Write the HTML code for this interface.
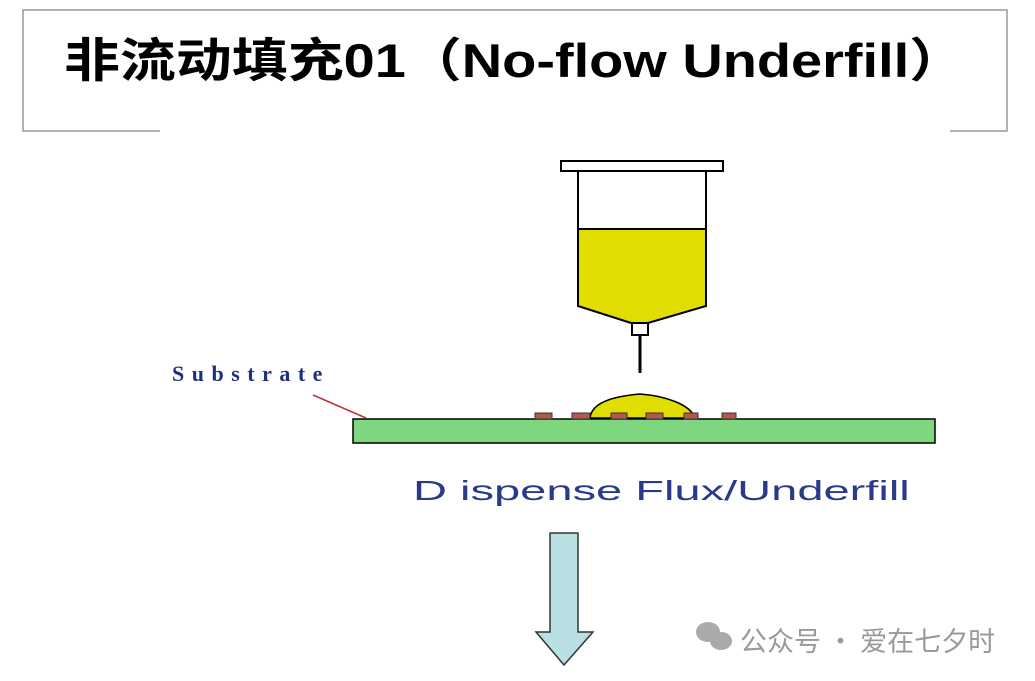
<!DOCTYPE html>
<html><head><meta charset="utf-8"><style>
body{margin:0;width:1035px;height:681px;background:#fff;overflow:hidden;position:relative}
.t{position:absolute;white-space:nowrap;transform-origin:0 0}
</style></head><body>
<svg width="1035" height="681" style="position:absolute;left:0;top:0">
<path d="M160 131 H23 V10 H1007 V131 H950" fill="none" stroke="#999" stroke-width="1.5"/>
<rect x="561" y="161" width="162" height="10" fill="#fff" stroke="#000" stroke-width="2"/>
<path d="M578 229 H706 V306 L648 323 H631 L578 306 Z" fill="#e0de00"/>
<path d="M578 171 V306 L631 323 H648 L706 306 V171 M578 229 H706" fill="none" stroke="#000" stroke-width="2"/>
<rect x="632" y="323" width="16" height="12" fill="#fff" stroke="#000" stroke-width="2"/>
<line x1="640" y1="335" x2="640" y2="373" stroke="#000" stroke-width="3"/>
<path d="M590 418 C592 400 620 396 640 394 C665 396 690 404 695 418 Z" fill="#e0de00" stroke="#000" stroke-width="1.5"/>
<rect x="353" y="419" width="582" height="24" fill="#7ed67e" stroke="#000" stroke-width="1.5"/>
<g fill="#b5574f" stroke="#333" stroke-width="1">
<rect x="535" y="413" width="17" height="6"/><rect x="572" y="413" width="18" height="6"/><rect x="611" y="413" width="16" height="6"/><rect x="646" y="413" width="17" height="6"/><rect x="684" y="413" width="14" height="6"/><rect x="722" y="413" width="14" height="6"/></g>
<line x1="313" y1="395" x2="366" y2="418" stroke="#c0303a" stroke-width="1.5"/>
<path d="M550 533 H578 V632 H593 L564 665 L536 632 H550 Z" fill="#b8e0e3" stroke="#333" stroke-width="1.5"/>
<g fill="#aaa"><ellipse cx="708" cy="632" rx="12" ry="10"/><ellipse cx="721" cy="641" rx="11" ry="9"/></g>
</svg>
<div class="t" style="left:64px;top:22px;font:bold 47px 'Liberation Sans','Noto Sans CJK SC',sans-serif;color:#000;transform:scaleX(1.19)">非流动填充01（No-flow Underfill）</div>
<div class="t" style="left:172px;top:361px;font:bold 22px 'Liberation Serif',serif;letter-spacing:7.5px;color:#1f2f80">Substrate</div>
<div class="t" style="left:413px;top:475px;font:28px 'Liberation Sans',sans-serif;color:#2a3a8a;transform:scaleX(1.68)">D ispense Flux/Underfill</div>
<div class="t" style="left:740px;top:620px;font:27px 'Noto Sans CJK SC',sans-serif;color:#999">公众号 · 爱在七夕时</div>
</body></html>
